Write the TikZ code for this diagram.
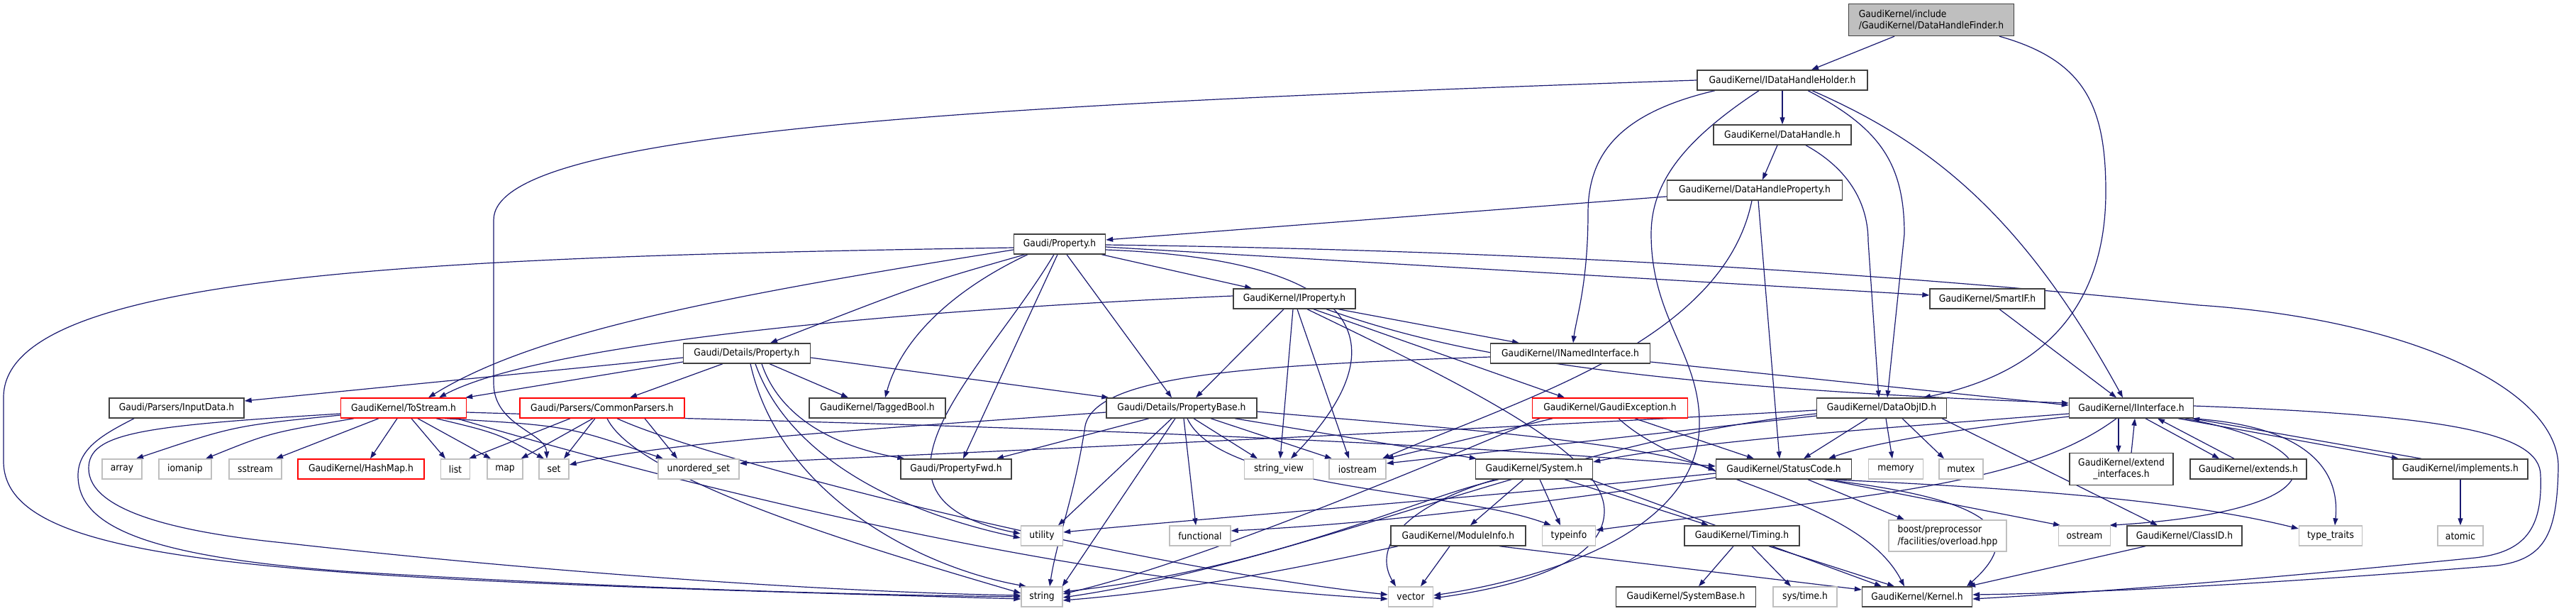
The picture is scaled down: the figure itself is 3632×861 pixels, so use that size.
\documentclass[tikz,border=0pt]{standalone}
\usepackage{fontspec}
\usetikzlibrary{arrows.meta}
\IfFontExistsTF{DejaVu Sans Condensed}{\newfontfamily\nodefont{DejaVu Sans Condensed}}{\newfontfamily\nodefont[FakeStretch=0.9]{DejaVu Sans}}
\definecolor{eblue}{HTML}{191970}
\definecolor{dgray}{HTML}{404040}
\definecolor{lgray}{HTML}{BFBFBF}
\pgfdeclarelayer{bg}\pgfdeclarelayer{edges}
\pgfsetlayers{bg,edges,main}
\tikzset{
  nbox/.style={draw=dgray, line width=1.4pt, fill=white, inner sep=0pt, minimum height=28pt, font={\nodefont\fontsize{13.7}{16.5}\selectfont}, text=black},
  sbox/.style={nbox, draw=lgray},
  rbox/.style={nbox, draw=red},
  conn/.style={draw=eblue, line width=1.2pt, -{Triangle[length=10pt,width=7pt]}},
}
\begin{document}
\begin{tikzpicture}[x=1pt,y=-1pt]
\begin{pgfonlayer}{bg}
\fill[white] (0,0) rectangle (3632,861);
\end{pgfonlayer}
\useasboundingbox (0,0) rectangle (3632,861);
% nodes
\node[nbox, fill=lgray, minimum width=233, minimum height=45, align=left] (root) at (2723,28) {GaudiKernel/include\\/GaudiKernel/DataHandleFinder.h};
\node[nbox, minimum width=240] (hh) at (2513,113) {GaudiKernel/IDataHandleHolder.h};
\node[nbox, minimum width=194] (dh) at (2513,190) {GaudiKernel/DataHandle.h};
\node[nbox, minimum width=247] (dhp) at (2474,268) {GaudiKernel/DataHandleProperty.h};
\node[nbox, minimum width=129] (prop) at (1494,344) {Gaudi/Property.h};
\node[nbox, minimum width=172] (iprop) at (1825,421) {GaudiKernel/IProperty.h};
\node[nbox, minimum width=162] (smart) at (2802,421) {GaudiKernel/SmartIF.h};
\node[nbox, minimum width=179] (dprop) at (1053,498) {Gaudi/Details/Property.h};
\node[nbox, minimum width=225] (nif) at (2214,498) {GaudiKernel/INamedInterface.h};
\node[nbox, minimum width=190] (input) at (249,575) {Gaudi/Parsers/InputData.h};
\node[rbox, minimum width=177] (tostr) at (569,575) {GaudiKernel/ToStream.h};
\node[rbox, minimum width=232] (cpars) at (849,575) {Gaudi/Parsers/CommonParsers.h};
\node[nbox, minimum width=192] (tbool) at (1237,575) {GaudiKernel/TaggedBool.h};
\node[nbox, minimum width=212] (pbase) at (1666,575) {Gaudi/Details/PropertyBase.h};
\node[rbox, minimum width=219] (gexc) at (2270,575) {GaudiKernel/GaudiException.h};
\node[nbox, minimum width=183] (oid) at (2653,575) {GaudiKernel/DataObjID.h};
\node[nbox, minimum width=175] (iif) at (3005,575) {GaudiKernel/IInterface.h};
\node[sbox, minimum width=56] (array) at (172,661) {array};
\node[sbox, minimum width=74] (iomanip) at (261,661) {iomanip};
\node[sbox, minimum width=74] (sstream) at (360,661) {sstream};
\node[rbox, minimum width=178] (hashmap) at (509,661) {GaudiKernel/HashMap.h};
\node[sbox, minimum width=41] (list) at (642,661) {list};
\node[sbox, minimum width=50] (map) at (712,661) {map};
\node[sbox, minimum width=42] (set) at (781,661) {set};
\node[sbox, minimum width=114] (uset) at (985,661) {unordered\_set};
\node[nbox, minimum width=156] (pfwd) at (1348,661) {Gaudi/PropertyFwd.h};
\node[sbox, minimum width=97] (sview) at (1803,661) {string\_view};
\node[sbox, minimum width=80] (ios) at (1914,661) {iostream};
\node[nbox, minimum width=165] (sys) at (2163,661) {GaudiKernel/System.h};
\node[nbox, minimum width=191] (sc) at (2515,661) {GaudiKernel/StatusCode.h};
\node[sbox, minimum width=77] (mem) at (2673,661) {memory};
\node[sbox, minimum width=62] (mutex) at (2765,661) {mutex};
\node[nbox, minimum width=146, minimum height=45, align=center] (extif) at (2991,661) {GaudiKernel/extend\\\_interfaces.h};
\node[nbox, minimum width=164] (extends) at (3170,661) {GaudiKernel/extends.h};
\node[nbox, minimum width=190] (impl) at (3469,661) {GaudiKernel/implements.h};
\node[sbox, minimum width=59] (util) at (1469,755) {utility};
\node[sbox, minimum width=86] (func) at (1692,755) {functional};
\node[nbox, minimum width=190] (modinfo) at (2056,755) {GaudiKernel/ModuleInfo.h};
\node[sbox, minimum width=75] (typeinfo) at (2212,755) {typeinfo};
\node[nbox, minimum width=162] (timing) at (2456,755) {GaudiKernel/Timing.h};
\node[sbox, minimum width=166, minimum height=44, align=left] (boost) at (2746,755) {boost/preprocessor\\/facilities/overload.hpp};
\node[sbox, minimum width=73] (ostream) at (2939,755) {ostream};
\node[nbox, minimum width=162] (classid) at (3080,755) {GaudiKernel/ClassID.h};
\node[sbox, minimum width=89] (ttraits) at (3286,755) {type\_traits};
\node[sbox, minimum width=64] (atomic) at (3469,755) {atomic};
\node[sbox, minimum width=58] (string) at (1469,841) {string};
\node[sbox, minimum width=63] (vector) at (1989,841) {vector};
\node[nbox, minimum width=197] (sysbase) at (2377,841) {GaudiKernel/SystemBase.h};
\node[sbox, minimum width=90] (systime) at (2545,841) {sys/time.h};
\node[nbox, minimum width=155] (kernel) at (2703,841) {GaudiKernel/Kernel.h};
\begin{pgfonlayer}{edges}
% root
\draw[conn] ([xshift=-52pt]root.south) -- ([xshift=41pt]hh.north);
\draw[conn] ([xshift=96pt]root.south) .. controls (2940,85) and (2969,150) .. (2969,270) .. controls (2969,450) and (2860,530) .. ([xshift=59pt]oid.north);
% IDataHandleHolder
\draw[conn] (hh) -- (dh);
\draw[conn] (hh.west) .. controls (1300,150) and (696,190) .. (696,310) -- (696,540) .. controls (696,600) and (770,610) .. ([xshift=-10pt]set.north);
\draw[conn] ([xshift=-95pt]hh.south) .. controls (2280,160) and (2239,220) .. (2239,300) .. controls (2239,400) and (2222,450) .. ([xshift=4pt]nif.north);
\draw[conn] ([xshift=-33pt]hh.south) .. controls (2370,200) and (2328,260) .. (2328,330) .. controls (2328,450) and (2398,500) .. (2396,600) .. controls (2393,760) and (2150,820) .. ([yshift=2pt]vector.east);
\draw[conn] ([xshift=36pt]hh.south) .. controls (2650,180) and (2685,230) .. (2685,330) -- ([xshift=8pt]oid.north);
\draw[conn] ([xshift=42pt]hh.south) .. controls (2720,200) and (2850,300) .. ([xshift=-12pt]iif.north);
% DataHandle
\draw[conn] ([xshift=-7pt]dh.south) -- ([xshift=11pt]dhp.north);
\draw[conn] ([xshift=33pt]dh.south) .. controls (2610,240) and (2634,290) .. (2634,340) -- ([xshift=-4pt]oid.north);
% DataHandleProperty
\draw[conn] ([yshift=-9pt]dhp.west) -- ([yshift=6pt]prop.east);
\draw[conn] ([xshift=5pt]dhp.south) -- ([xshift=-6pt]sc.north);
\draw[conn] ([xshift=-4pt]dhp.south) .. controls (2430,480) and (2150,560) .. ([xshift=35pt]ios.north);
% Property
\draw[conn] ([yshift=-5pt]prop.west) .. controls (600,362) and (5,385) .. (5,560) -- (5,650) .. controls (5,800) and (400,815) .. ([yshift=-3pt]string.west);
\draw[conn] ([yshift=-8pt]prop.west) .. controls (1000,420) and (750,470) .. ([xshift=35pt]tostr.north);
\draw[conn] ([xshift=-49pt]prop.south) .. controls (1300,400) .. ([xshift=33pt]dprop.north);
\draw[conn] ([xshift=-45pt]prop.south) .. controls (1340,410) and (1270,480) .. ([xshift=11pt]tbool.north);
\draw[conn] ([xshift=-8pt]prop.south) .. controls (1390,520) and (1180,700) .. ([yshift=3pt]util.west);
\draw[conn] ([xshift=-3pt]prop.south) -- ([xshift=10pt]pfwd.north);
\draw[conn] ([xshift=10pt]prop.south) -- ([xshift=-14pt]pbase.north);
\draw[conn] ([xshift=-6pt]prop.south east) -- ([xshift=-60pt]iprop.north);
\draw[conn] ([yshift=-4pt]prop.east) -- ([yshift=5pt]smart.west);
\draw[conn] ([yshift=-8pt]prop.east) .. controls (1900,365) and (1990,470) .. ([xshift=17pt]sview.north);
\draw[conn] ([yshift=-1pt]prop.east) .. controls (2300,355) and (2800,400) .. (3100,430) .. controls (3400,450) and (3610,550) .. (3607,660) .. controls (3605,750) and (3590,788) .. (3520,797) .. controls (3300,815) and (3000,835) .. ([yshift=3pt]kernel.east);
% IProperty
\draw[conn] ([yshift=4pt]iprop.west) .. controls (1200,440) and (750,490) .. ([xshift=50pt]tostr.north);
\draw[conn] ([xshift=-15pt]iprop.south) -- ([xshift=20pt]pbase.north);
\draw[conn] ([xshift=62pt]iprop.south) -- ([xshift=-72pt]nif.north);
\draw[conn] ([xshift=45pt]iprop.south) .. controls (2050,500) and (2300,545) .. ([yshift=7pt]iif.west);
\draw[conn] ([xshift=27pt]iprop.south) -- ([xshift=-64pt]gexc.north);
\draw[conn] ([xshift=18pt]iprop.south) .. controls (2080,550) and (2262,640) .. (2262,720) .. controls (2262,790) and (2150,825) .. ([yshift=-2pt]vector.east);
\draw[conn] ([xshift=4pt]iprop.south) -- ([xshift=-12pt]ios.north);
\draw[conn] ([xshift=-2pt]iprop.south) -- ([xshift=2pt]sview.north);
% SmartIF
\draw[conn] ([xshift=17pt]smart.south) -- ([xshift=-21pt]iif.north);
% Details/Property
\draw[conn] ([yshift=-6pt]dprop.west) -- ([yshift=10pt]input.east);
\draw[conn] ([yshift=-12pt]dprop.west) -- ([xshift=-2pt]tostr.north east);
\draw[conn] ([xshift=-34pt]dprop.south) -- ([xshift=39pt]cpars.north);
\draw[conn] ([xshift=32pt]dprop.south) -- ([xshift=-41pt]tbool.north);
\draw[conn] ([yshift=-6pt]dprop.east) -- ([xshift=4pt]pbase.north west);
\draw[conn] ([xshift=21pt]dprop.south) .. controls (1100,590) and (1180,630) .. ([xshift=6pt]pfwd.north west);
\draw[conn] ([xshift=12pt]dprop.south) .. controls (1110,640) and (1260,720) .. ([yshift=-3pt]util.west);
\draw[conn] ([xshift=5pt]dprop.south) .. controls (1100,700) and (1300,800) .. ([xshift=-22pt]string.north);
% INamedInterface
\draw[conn] ([yshift=-12pt]nif.east) -- ([yshift=4pt]iif.west);
\draw[conn] ([yshift=-5pt]nif.west) .. controls (1750,515) and (1545,530) .. (1530,600) .. controls (1515,700) and (1490,760) .. ([xshift=11pt]string.north);
% InputData
\draw[conn] ([xshift=-60pt]input.south) .. controls (150,610) and (110,630) .. (110,670) .. controls (110,740) and (200,785) .. (500,806) .. controls (900,830) and (1200,838) .. (string.west);
% ToStream
\draw[conn] ([yshift=-8pt]tostr.west) .. controls (200,600) and (125,610) .. (125,660) .. controls (125,720) and (250,750) .. (400,765) .. controls (800,810) and (1200,835) .. ([yshift=2pt]string.west);
\draw[conn] ([yshift=-10pt]tostr.west) .. controls (330,600) .. ([xshift=20pt]array.north);
\draw[conn] ([xshift=-70pt]tostr.south) .. controls (380,610) .. ([xshift=29pt]iomanip.north);
\draw[conn] ([xshift=-35pt]tostr.south) -- ([xshift=29pt]sstream.north);
\draw[conn] ([xshift=-9pt]tostr.south) -- ([xshift=13pt]hashmap.north);
\draw[conn] ([xshift=11pt]tostr.south) -- ([xshift=-14pt]list.north);
\draw[conn] ([xshift=20pt]tostr.south) -- ([xshift=-20pt]map.north);
\draw[conn] ([xshift=46pt]tostr.south) .. controls (700,610) .. ([xshift=-14pt]set.north);
\draw[conn] ([xshift=58pt]tostr.south) .. controls (800,600) .. ([xshift=-50pt]uset.north);
\draw[conn] ([xshift=75pt]tostr.south) .. controls (950,680) and (1500,820) .. ([yshift=-3pt]vector.west);
\draw[conn] ([yshift=-6pt]tostr.east) .. controls (1000,592) and (1800,605) .. ([yshift=4pt]sc.west);
% CommonParsers
\draw[conn] ([xshift=-45pt]cpars.south) -- ([xshift=-2pt]list.north east);
\draw[conn] ([xshift=-13pt]cpars.south) -- ([xshift=-3pt]map.north east);
\draw[conn] ([xshift=-10pt]cpars.south) -- ([xshift=14pt]set.north);
\draw[conn] ([xshift=7pt]cpars.south) .. controls (900,680) and (1250,780) .. ([yshift=5pt]string.west);
\draw[conn] ([xshift=21pt]cpars.south) .. controls (1000,650) and (1600,800) .. ([yshift=3pt]vector.west);
\draw[conn] ([xshift=60pt]cpars.south) -- ([xshift=-30pt]uset.north);
% PropertyBase
\draw[conn] ([xshift=-46pt]pbase.south) -- ([xshift=57pt]pfwd.north);
\draw[conn] ([xshift=-14pt]pbase.south) -- ([xshift=23pt]util.north);
\draw[conn] ([xshift=-9pt]pbase.south) -- ([xshift=-1pt]string.north east);
\draw[conn] ([xshift=3pt]pbase.south) -- ([xshift=-6pt]func.north);
\draw[conn] ([xshift=17pt]pbase.south) -- ([xshift=-30pt]sview.north);
\draw[conn] ([xshift=8pt]pbase.south) .. controls (1720,690) and (2050,690) .. ([xshift=-25pt]typeinfo.north);
\draw[conn] ([xshift=41pt]pbase.south) -- ([xshift=-36pt]ios.north);
\draw[conn] ([xshift=75pt]pbase.south) -- ([xshift=2pt]sys.north west);
\draw[conn] ([yshift=-5pt]pbase.east) .. controls (2000,600) and (2300,620) .. ([yshift=-2pt]sc.west);
\draw[conn] ([yshift=-6pt]pbase.west) .. controls (1300,600) and (950,620) .. ([yshift=6pt]set.east);
% GaudiException
\draw[conn] ([xshift=-81pt]gexc.south) -- (ios.north east);
\draw[conn] ([xshift=-99pt]gexc.south) .. controls (2050,640) and (1700,790) .. ([yshift=4pt]string.east);
\draw[conn] ([xshift=35pt]gexc.south) -- ([xshift=-42pt]sc.north);
\draw[conn] ([xshift=12pt]gexc.south) .. controls (2380,680) and (2620,700) .. ([xshift=-18pt]kernel.north);
% DataObjID
\draw[conn] ([yshift=-3pt]oid.west) .. controls (2000,610) and (1300,640) .. ([yshift=8pt]uset.east);
\draw[conn] ([yshift=-8pt]oid.west) .. controls (2200,620) and (1850,790) .. ([yshift=-1pt]string.east);
\draw[conn] ([yshift=-11pt]oid.west) -- ([yshift=8pt]ios.east);
\draw[conn] ([xshift=-20pt]oid.south) -- ([xshift=28pt]sc.north);
\draw[conn] ([xshift=6pt]oid.south) -- ([xshift=-5pt]mem.north);
\draw[conn] ([xshift=29pt]oid.south) -- ([xshift=-24pt]mutex.north);
\draw[conn] ([xshift=85pt]oid.south) -- ([xshift=-38pt]classid.north);
% IInterface
\draw[conn] ([yshift=-8pt]iif.west) .. controls (2700,600) and (2400,620) .. ([yshift=10pt]sys.east);
\draw[conn] ([yshift=-12pt]iif.west) .. controls (2800,600) and (2650,620) .. ([xshift=63pt]sc.north);
\draw[conn] ([xshift=-21pt]iif.south) .. controls (2850,690) and (2600,700) .. ([yshift=8pt]typeinfo.east);
\draw[conn] ([xshift=-18pt]iif.south) -- ([xshift=-4pt]extif.north);
\draw[conn] ([xshift=14pt]extif.north) -- ([xshift=5pt]iif.south);
\draw[conn] ([xshift=20pt]iif.south) -- ([xshift=-41pt]extends.north);
\draw[conn] ([xshift=-20pt]extends.north) -- ([xshift=37pt]iif.south);
\draw[conn] ([xshift=66pt]iif.south) -- ([xshift=-87pt]impl.north);
\draw[conn] ([xshift=-55pt]impl.north) -- ([xshift=-2pt]iif.south east);
\draw[conn] ([xshift=75pt]iif.south) .. controls (3300,630) and (3300,720) .. ([xshift=-2pt]ostream.north east);
\draw[conn] ([xshift=85pt]iif.south) .. controls (3250,600) and (3300,660) .. ([xshift=6pt]ttraits.north);
\draw[conn] ([yshift=3pt]iif.east) .. controls (3450,585) and (3582,610) .. (3582,670) .. controls (3585,745) and (3560,778) .. (3490,786) .. controls (3250,810) and (3000,832) .. ([yshift=-3pt]kernel.east);
% implements
\draw[conn] (impl) -- (atomic);
% System
\draw[conn] ([xshift=-50pt]sys.south) .. controls (2000,700) and (1800,800) .. ([yshift=7pt]string.east);
\draw[conn] ([xshift=-55pt]sys.south) .. controls (1960,720) and (1940,780) .. ([xshift=-21pt]vector.north);
\draw[conn] ([xshift=-15pt]sys.south) -- ([xshift=17pt]modinfo.north);
\draw[conn] ([xshift=8pt]sys.south) -- ([xshift=-12pt]typeinfo.north);
\draw[conn] ([xshift=43pt]sys.south) -- ([xshift=-47pt]timing.north);
\draw[conn] ([xshift=-4pt]sys.south east) -- ([xshift=-50pt]kernel.north);
% StatusCode
\draw[conn] ([yshift=-6pt]sc.west) .. controls (2100,700) and (1700,730) .. ([yshift=5pt]util.east);
\draw[conn] ([yshift=-12pt]sc.west) .. controls (2100,720) and (1900,740) .. ([yshift=7pt]func.east);
\draw[conn] ([xshift=34pt]sc.south) -- ([xshift=-61pt]boost.north);
\draw[conn] ([xshift=57pt]sc.south) .. controls (2780,700) and (2870,740) .. ([xshift=70pt]kernel.north);
\draw[conn] ([xshift=60pt]sc.south) -- ([xshift=-34pt]ostream.north);
\draw[conn] ([xshift=64pt]sc.south) .. controls (2900,690) and (3100,710) .. ([yshift=10pt]ttraits.west);
% ModuleInfo
\draw[conn] ([xshift=-85pt]modinfo.south) .. controls (1900,785) and (1700,830) .. ([yshift=-5pt]string.east);
\draw[conn] ([xshift=-12pt]modinfo.south) -- ([xshift=14pt]vector.north);
\draw[conn] ([xshift=58pt]modinfo.south) -- ([yshift=10pt]kernel.west);
% Timing
\draw[conn] ([xshift=-12pt]timing.south) -- ([xshift=18pt]sysbase.north);
\draw[conn] ([xshift=14pt]timing.south) -- ([xshift=-20pt]systime.north);
\draw[conn] ([xshift=38pt]timing.south) -- ([xshift=-32pt]kernel.north);
% ClassID
\draw[conn] ([xshift=-55pt]classid.south) -- ([xshift=72pt]kernel.north);
\end{pgfonlayer}
\end{tikzpicture}
\end{document}
